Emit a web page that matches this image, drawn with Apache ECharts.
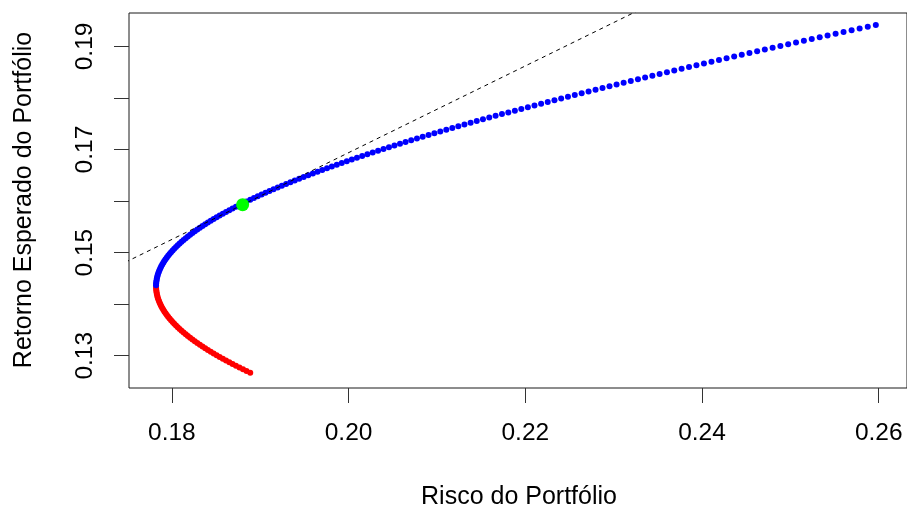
<!DOCTYPE html>
<html>
<head>
<meta charset="utf-8">
<script src="https://cdn.jsdelivr.net/npm/echarts@6/dist/echarts.min.js"></script>
<style>
  html, body { margin: 0; padding: 0; background: #ffffff; }
  #grafico { width: 907px; height: 509px; }
</style>
</head>
<body>
<div id="grafico"></div>
<script>
// Fronteira de Markowitz: trecho ineficiente (abaixo da carteira de variância mínima)
const retornoIneficiente = [0.126700,0.127039,0.127378,0.127717,0.128056,0.128395,0.128734,0.129073,0.129412,0.129751,0.130090,0.130429,0.130768,0.131107,0.131446,0.131785,0.132124,0.132463,0.132802,0.133141,0.133480,0.133819,0.134158,0.134497,0.134836,0.135175,0.135514,0.135853,0.136192,0.136531,0.136870,0.137209,0.137548,0.137887,0.138226,0.138565,0.138904,0.139243,0.139582,0.139921,0.140260,0.140599,0.140938,0.141277,0.141616,0.141955,0.142294,0.142633,0.142972,0.143311];
const riscoIneficiente = [0.18887,0.18845,0.18805,0.18765,0.18725,0.18687,0.18650,0.18613,0.18577,0.18541,0.18507,0.18473,0.18440,0.18408,0.18377,0.18347,0.18317,0.18288,0.18260,0.18233,0.18207,0.18181,0.18157,0.18133,0.18110,0.18088,0.18067,0.18047,0.18027,0.18009,0.17991,0.17974,0.17958,0.17943,0.17929,0.17915,0.17903,0.17891,0.17880,0.17871,0.17862,0.17854,0.17846,0.17840,0.17835,0.17830,0.17827,0.17824,0.17822,0.17821];

// Trecho eficiente da fronteira
const retornoEficiente = [0.143650,0.143989,0.144328,0.144667,0.145006,0.145345,0.145684,0.146023,0.146362,0.146701,0.147040,0.147379,0.147718,0.148057,0.148396,0.148735,0.149074,0.149413,0.149752,0.150091,0.150430,0.150769,0.151108,0.151447,0.151786,0.152125,0.152464,0.152803,0.153142,0.153481,0.153820,0.154159,0.154498,0.154837,0.155176,0.155515,0.155854,0.156193,0.156532,0.156871,0.157210,0.157549,0.157888,0.158227,0.158566,0.158905,0.159244,0.159583,0.159922,0.160261,0.160600,0.160939,0.161278,0.161617,0.161956,0.162295,0.162634,0.162973,0.163312,0.163651,0.163990,0.164329,0.164668,0.165007,0.165346,0.165685,0.166024,0.166363,0.166702,0.167041,0.167380,0.167719,0.168058,0.168397,0.168736,0.169075,0.169414,0.169753,0.170092,0.170431,0.170770,0.171109,0.171448,0.171787,0.172126,0.172465,0.172804,0.173143,0.173482,0.173821,0.174160,0.174499,0.174838,0.175177,0.175516,0.175855,0.176194,0.176533,0.176872,0.177211,0.177550,0.177889,0.178228,0.178567,0.178906,0.179245,0.179584,0.179923,0.180262,0.180601,0.180940,0.181279,0.181618,0.181957,0.182296,0.182635,0.182974,0.183313,0.183652,0.183991,0.184330,0.184669,0.185008,0.185347,0.185686,0.186025,0.186364,0.186703,0.187042,0.187381,0.187720,0.188059,0.188398,0.188737,0.189076,0.189415,0.189754,0.190093,0.190432,0.190771,0.191110,0.191449,0.191788,0.192127,0.192466,0.192805,0.193144,0.193483,0.193822,0.194161];
const riscoEficiente = [0.17821,0.17822,0.17824,0.17827,0.17830,0.17835,0.17840,0.17846,0.17854,0.17862,0.17871,0.17880,0.17891,0.17903,0.17915,0.17929,0.17943,0.17958,0.17974,0.17991,0.18009,0.18027,0.18047,0.18067,0.18088,0.18110,0.18133,0.18157,0.18181,0.18207,0.18233,0.18260,0.18288,0.18317,0.18347,0.18377,0.18408,0.18440,0.18473,0.18507,0.18541,0.18577,0.18613,0.18650,0.18687,0.18725,0.18765,0.18805,0.18845,0.18887,0.18929,0.18972,0.19016,0.19060,0.19105,0.19151,0.19198,0.19245,0.19293,0.19342,0.19391,0.19441,0.19492,0.19544,0.19596,0.19649,0.19702,0.19756,0.19811,0.19867,0.19923,0.19980,0.20037,0.20095,0.20154,0.20213,0.20273,0.20334,0.20395,0.20457,0.20519,0.20582,0.20645,0.20709,0.20774,0.20839,0.20905,0.20971,0.21038,0.21106,0.21174,0.21242,0.21311,0.21381,0.21451,0.21521,0.21592,0.21664,0.21736,0.21808,0.21882,0.21955,0.22029,0.22104,0.22179,0.22254,0.22330,0.22406,0.22483,0.22560,0.22638,0.22716,0.22795,0.22874,0.22953,0.23033,0.23113,0.23194,0.23275,0.23356,0.23438,0.23520,0.23603,0.23686,0.23769,0.23853,0.23937,0.24022,0.24107,0.24192,0.24278,0.24364,0.24450,0.24537,0.24624,0.24711,0.24799,0.24887,0.24975,0.25064,0.25153,0.25242,0.25332,0.25421,0.25512,0.25602,0.25693,0.25784,0.25876,0.25967];

// Carteira tangente (risco, retorno) e taxa livre de risco
const carteiraTangente = [0.18801, 0.15930];
const taxaLivreRisco = 0.0011;

// Marcas dos eixos
const marcasX = [0.18, 0.20, 0.22, 0.24, 0.26];
const marcasY = [0.13, 0.14, 0.15, 0.16, 0.17, 0.18, 0.19];
const rotulosY = [0.13, 0.15, 0.17, 0.19];

const pares = (xs, ys) => xs.map((x, i) => [x, ys[i]]);
const inclinacao = (carteiraTangente[1] - taxaLivreRisco) / carteiraTangente[0];
const linhaCML = [[0, taxaLivreRisco], [0.4, taxaLivreRisco + inclinacao * 0.4]];

const fonte = '"Liberation Sans", Arial, sans-serif';
const chart = echarts.init(document.getElementById('grafico'), null, { renderer: 'canvas' });

chart.setOption({
  animation: false,
  backgroundColor: '#ffffff',
  grid: {
    left: 129, top: 13, width: 780, height: 375,
    show: true, borderColor: '#1a1a1a', borderWidth: 1, backgroundColor: 'transparent'
  },
  xAxis: {
    type: 'value', min: 0.17515, max: 0.2632,
    axisLine: { show: false },
    splitLine: { show: false },
    axisTick: { show: true, length: 15, inside: false, customValues: marcasX,
                lineStyle: { color: '#333333', width: 1 } },
    axisLabel: { show: true, customValues: marcasX, margin: 33,
                 formatter: v => v.toFixed(2),
                 fontSize: 24.5, fontFamily: fonte, color: '#000000' }
  },
  yAxis: {
    type: 'value', min: 0.12374, max: 0.19649,
    axisLine: { show: false },
    splitLine: { show: false },
    axisTick: { show: true, length: 15, inside: false, customValues: marcasY,
                lineStyle: { color: '#333333', width: 1 } },
    axisLabel: { show: true, customValues: rotulosY, rotate: 90, margin: 31,
                 formatter: v => v.toFixed(2),
                 fontSize: 24.5, fontFamily: fonte, color: '#000000' }
  },
  graphic: [
    { type: 'text', x: 519, y: 497,
      style: { text: 'Risco do Portfólio', fontSize: 25, fontFamily: fonte, fill: '#000000',
               align: 'center', verticalAlign: 'middle' } },
    { type: 'text', x: 24, y: 200, rotation: Math.PI / 2,
      style: { text: 'Retorno Esperado do Portfólio', fontSize: 25, fontFamily: fonte, fill: '#000000',
               align: 'center', verticalAlign: 'middle' } }
  ],
  series: [
    { type: 'scatter', name: 'Ineficiente', data: pares(riscoIneficiente, retornoIneficiente),
      symbol: 'circle', symbolSize: 6, itemStyle: { color: '#ff0000', opacity: 1 }, silent: true, z: 2 },
    { type: 'scatter', name: 'Eficiente', data: pares(riscoEficiente, retornoEficiente),
      symbol: 'circle', symbolSize: 6, itemStyle: { color: '#0000ff', opacity: 1 }, silent: true, z: 2 },
    { type: 'line', name: 'CML', data: linhaCML, showSymbol: false, clip: true,
      lineStyle: { color: '#000000', width: 1, type: [4, 4] }, silent: true, z: 3 },
    { type: 'scatter', name: 'Tangente', data: [carteiraTangente],
      symbol: 'circle', symbolSize: 13, itemStyle: { color: '#00ff00', opacity: 1 }, silent: true, z: 4 }
  ]
});
</script>
</body>
</html>
